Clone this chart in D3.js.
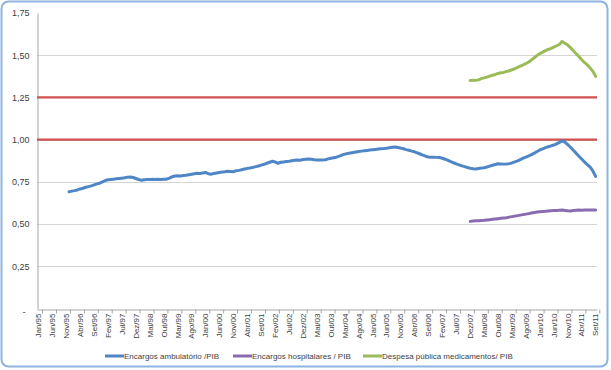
<!DOCTYPE html>
<html>
<head>
<meta charset="utf-8">
<script src="https://cdn.jsdelivr.net/npm/d3@7"></script>
<style>
  html, body { margin: 0; padding: 0; background: #fff; }
  svg { display: block; }
</style>
</head>
<body>
<svg id="chart" width="611" height="370"></svg>
<script>
const MONTH_NAMES = ['Jan', 'Fev', 'Mar', 'Abr', 'Mai', 'Jun', 'Jul', 'Ago', 'Set', 'Out', 'Nov', 'Dez'];
const YEARS = ['95', '96', '97', '98', '99', '00', '01', '02', '03', '04', '05', '06', '07', '08', '09', '10', '11'];
const LAST_CATEGORY = 'Set/11';

const tickLabels = ['Jan/95', 'Jun/95', 'Nov/95', 'Abr/96', 'Set/96', 'Fev/97', 'Jul/97', 'Dez/97', 'Mai/98', 'Out/98',
  'Mar/99', 'Ago/99', 'Jan/00', 'Jun/00', 'Nov/00', 'Abr/01', 'Set/01', 'Fev/02', 'Jul/02', 'Dez/02',
  'Mai/03', 'Out/03', 'Mar/04', 'Ago/04', 'Jan/05', 'Jun/05', 'Nov/05', 'Abr/06', 'Set/06', 'Fev/07',
  'Jul/07', 'Dez/07', 'Mai/08', 'Out/08', 'Mar/09', 'Ago/09', 'Jan/10', 'Jun/10', 'Nov/10', 'Abr/11', 'Set/11'];
const yTicks = [0, 0.25, 0.5, 0.75, 1.0, 1.25, 1.5, 1.75];

// Encargos ambulatório /PIB, monthly from Dez/95
const ambulatorioStart = 'Dez/95';
const ambulatorio = [
  0.692,
  0.695, 0.698, 0.702, 0.708, 0.712, 0.718, 0.722, 0.726, 0.732, 0.738, 0.742, 0.750,
  0.758, 0.762, 0.764, 0.766, 0.768, 0.770, 0.772, 0.774, 0.778, 0.779, 0.776, 0.770,
  0.764, 0.760, 0.763, 0.764, 0.764, 0.765, 0.764, 0.765, 0.764, 0.765, 0.766, 0.772,
  0.780, 0.785, 0.786, 0.785, 0.787, 0.789, 0.792, 0.795, 0.798, 0.801, 0.799, 0.803,
  0.806, 0.798, 0.795, 0.800, 0.803, 0.806, 0.808, 0.810, 0.813, 0.812, 0.810, 0.816,
  0.818, 0.822, 0.826, 0.830, 0.832, 0.836, 0.840, 0.844, 0.849, 0.854, 0.860, 0.866,
  0.872, 0.868, 0.860, 0.866, 0.868, 0.870, 0.872, 0.875, 0.878, 0.880, 0.878, 0.882,
  0.884, 0.886, 0.884, 0.881, 0.880, 0.879, 0.880, 0.881, 0.886, 0.890, 0.893, 0.896,
  0.902, 0.909, 0.914, 0.918, 0.921, 0.924, 0.927, 0.930, 0.932, 0.934, 0.936, 0.938,
  0.940, 0.942, 0.944, 0.946, 0.947, 0.949, 0.952, 0.955, 0.956, 0.953, 0.950, 0.946,
  0.941, 0.937, 0.932, 0.928, 0.922, 0.915, 0.908, 0.902, 0.897, 0.896, 0.896, 0.895,
  0.894, 0.890, 0.884, 0.877, 0.870, 0.863, 0.857, 0.851, 0.845, 0.840, 0.835, 0.831,
  0.828, 0.826, 0.829, 0.832, 0.834, 0.838, 0.843, 0.848, 0.853, 0.857, 0.856, 0.855,
  0.856, 0.858, 0.862, 0.868, 0.874, 0.882, 0.890, 0.897, 0.904, 0.911, 0.920, 0.930,
  0.939, 0.946, 0.953, 0.958, 0.963, 0.968, 0.975, 0.984, 0.993, 0.985, 0.970, 0.955,
  0.937, 0.920, 0.902, 0.885, 0.868, 0.852, 0.838, 0.815, 0.782
];

// Encargos hospitalares / PIB, monthly from Dez/07
const hospitalaresStart = 'Dez/07';
const hospitalares = [
  0.516,
  0.518, 0.519, 0.520, 0.521, 0.522, 0.524, 0.526, 0.528, 0.530, 0.532, 0.534, 0.536,
  0.538, 0.541, 0.544, 0.547, 0.550, 0.553, 0.556, 0.559, 0.562, 0.565, 0.568, 0.571,
  0.573, 0.575, 0.576, 0.578, 0.579, 0.580, 0.581, 0.582, 0.583, 0.581, 0.579, 0.578,
  0.580, 0.582, 0.583, 0.582, 0.583, 0.584, 0.584, 0.584, 0.584
];

// Despesa pública medicamentos/ PIB, monthly from Dez/07
const medicamentosStart = 'Dez/07';
const medicamentos = [
  1.350,
  1.352, 1.351, 1.354, 1.362, 1.366, 1.370, 1.376, 1.381, 1.386, 1.392, 1.396, 1.398,
  1.404, 1.408, 1.414, 1.420, 1.428, 1.436, 1.443, 1.451, 1.460, 1.472, 1.485, 1.499,
  1.510, 1.518, 1.527, 1.534, 1.540, 1.548, 1.556, 1.564, 1.582, 1.570, 1.560, 1.545,
  1.527, 1.509, 1.492, 1.473, 1.457, 1.443, 1.425, 1.405, 1.375
];

// horizontal reference lines
const referenceLevels = [1.00, 1.25];

const categories = [];
YEARS.forEach((yy) => MONTH_NAMES.forEach((m) => categories.push(`${m}/${yy}`)));
categories.length = categories.indexOf(LAST_CATEGORY) + 1;

const SERIES = [
  { name: 'Encargos ambulatório /PIB', start: ambulatorioStart, values: ambulatorio, color: '#4f86c6' },
  { name: 'Encargos hospitalares / PIB', start: hospitalaresStart, values: hospitalares, color: '#8a6bb0' },
  { name: 'Despesa pública medicamentos/ PIB', start: medicamentosStart, values: medicamentos, color: '#9bbb59' },
];

const FONT = "'Liberation Sans Narrow', 'Liberation Sans', Arial, sans-serif";
const PLOT = { left: 37, right: 597, top: 13, bottom: 308.5 };

const svg = d3.select('#chart');

// outer chart frame
svg.append('rect')
  .attr('x', 1.5).attr('y', 1.5).attr('width', 606).attr('height', 365)
  .attr('rx', 7).attr('ry', 7)
  .attr('fill', '#fff').attr('stroke', '#8db3e2').attr('stroke-width', 2);

const x = d3.scaleBand().domain(categories).range([PLOT.left, PLOT.right]);
const xc = (c) => x(c) + x.bandwidth() / 2;
const y = d3.scaleLinear().domain([0, 1.75]).range([PLOT.bottom, PLOT.top]);

// gridlines
svg.append('g').selectAll('line').data(yTicks.filter((t) => t > 0 && t < 1.75)).enter()
  .append('line')
  .attr('x1', PLOT.left).attr('x2', PLOT.right)
  .attr('y1', (d) => Math.round(y(d)) + 0.5).attr('y2', (d) => Math.round(y(d)) + 0.5)
  .attr('stroke', '#d4d4d4').attr('stroke-width', 1);

// y axis
const yAxis = d3.axisLeft(y).tickValues(yTicks).tickSize(0).tickPadding(8)
  .tickFormat((d) => (d === 0 ? '-' : d3.format('.2f')(d).replace('.', ',')));
const yAxisG = svg.append('g').attr('transform', `translate(${PLOT.left + 0.5},0)`).call(yAxis);
yAxisG.select('.domain').attr('stroke', '#a6a6a6');
yAxisG.selectAll('text').attr('font-family', FONT).attr('font-size', 9).attr('fill', '#404040');
yAxisG.selectAll('.tick').filter((d) => d === 0).select('text').attr('dx', -4).attr('dy', '0.7em');

// x axis
const xAxis = d3.axisBottom(x).tickValues(tickLabels).tickSize(0).tickPadding(0);
const xAxisG = svg.append('g').attr('transform', `translate(0,${Math.round(PLOT.bottom) + 0.5})`).call(xAxis);
xAxisG.select('.domain').attr('stroke', '#a6a6a6');
xAxisG.selectAll('.tick').append('line')
  .attr('x1', x.bandwidth() * 1.5).attr('x2', x.bandwidth() * 1.5)
  .attr('y1', 0).attr('y2', 4)
  .attr('stroke', '#a6a6a6');
xAxisG.selectAll('text')
  .attr('font-family', FONT).attr('font-size', 8).attr('fill', '#404040')
  .attr('transform', 'rotate(-90)')
  .attr('text-anchor', 'end')
  .attr('x', -4).attr('y', 0).attr('dy', '0.35em');

// reference lines
svg.append('g').selectAll('line').data(referenceLevels).enter()
  .append('line')
  .attr('x1', PLOT.left).attr('x2', PLOT.right)
  .attr('y1', (d) => y(d)).attr('y2', (d) => y(d))
  .attr('stroke', '#d0514e').attr('stroke-width', 2.25);

// series lines
const line = d3.line().x((d) => xc(d.cat)).y((d) => y(d.value));
SERIES.forEach((s) => {
  const i0 = categories.indexOf(s.start);
  const pts = s.values.map((v, k) => ({ cat: categories[i0 + k], value: v }));
  svg.append('path').datum(pts)
    .attr('d', line)
    .attr('fill', 'none')
    .attr('stroke', s.color)
    .attr('stroke-width', 3)
    .attr('stroke-linejoin', 'round')
    .attr('stroke-linecap', 'round');
});

// legend
const legendX = [105, 233, 363];
const legend = svg.append('g').attr('transform', 'translate(0,356)');
SERIES.forEach((s, i) => {
  const g = legend.append('g').attr('transform', `translate(${legendX[i]},0)`);
  g.append('line').attr('x1', 0).attr('x2', 19).attr('y1', 0).attr('y2', 0)
    .attr('stroke', s.color).attr('stroke-width', 3);
  g.append('text').attr('x', 19).attr('y', 0).attr('dy', '0.35em')
    .attr('font-family', FONT).attr('font-size', 8).attr('fill', '#404040')
    .text(s.name);
});
</script>
</body>
</html>
